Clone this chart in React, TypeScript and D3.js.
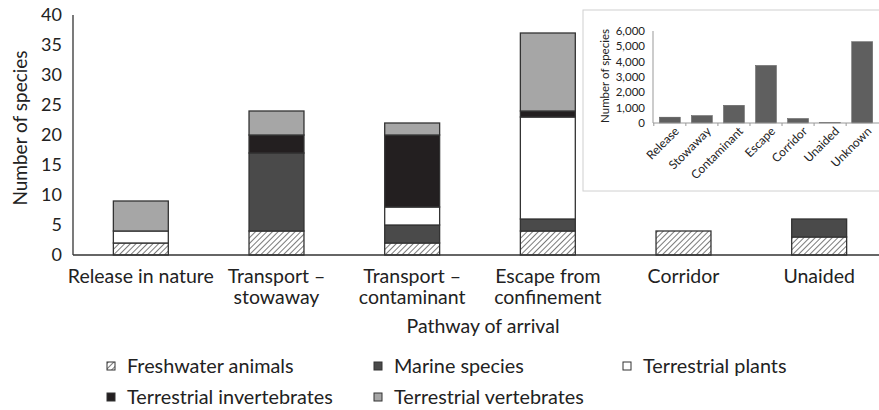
import React from 'react';
import * as d3 from 'd3';

const categories = ['Release in nature', 'Transport – stowaway', 'Transport – contaminant', 'Escape from confinement', 'Corridor', 'Unaided'];
const categoryLines = [['Release in nature'], ['Transport –', 'stowaway'], ['Transport –', 'contaminant'], ['Escape from', 'confinement'], ['Corridor'], ['Unaided']];

const seriesNames = ['Freshwater animals', 'Marine species', 'Terrestrial plants', 'Terrestrial invertebrates', 'Terrestrial vertebrates'];
const freshwater = [2, 4, 2, 4, 4, 3];
const marine = [0, 13, 3, 2, 0, 3];
const plants = [2, 0, 3, 17, 0, 0];
const invertebrates = [0, 3, 12, 1, 0, 0];
const vertebrates = [5, 4, 2, 13, 0, 0];
const yTicks = [0, 5, 10, 15, 20, 25, 30, 35, 40];

const insetCategories = ['Release', 'Stowaway', 'Contaminant', 'Escape', 'Corridor', 'Unaided', 'Unknown'];
const insetValues = [380, 480, 1150, 3750, 290, 40, 5300];
const insetTicks = [0, 1000, 2000, 3000, 4000, 5000, 6000];

const fills = ['url(#hatch)', '#4a4a4a', '#ffffff', '#231f20', '#a6a6a6'];
const font = "Lato, sans-serif";

export default function App() {
  const W = 879, H = 410;
  const rows = categories.map((c, i) => ({
    cat: c,
    s0: freshwater[i], s1: marine[i], s2: plants[i], s3: invertebrates[i], s4: vertebrates[i],
  }));
  const keys = ['s0', 's1', 's2', 's3', 's4'];
  const stack = d3.stack<any>().keys(keys)(rows);

  const x = d3.scaleBand().domain(categories).range([73, 887]).paddingInner(0.595).paddingOuter(0.2975);
  const y = d3.scaleLinear().domain([0, 40]).range([255, 15]);

  const ix = d3.scaleBand().domain(insetCategories).range([653, 879]).paddingInner(0.35).paddingOuter(0.2);
  const iy = d3.scaleLinear().domain([0, 6000]).range([123, 31]);
  const fmt = d3.format(',');

  const legendPos = [[111, 366], [378, 366], [627, 366], [111, 397], [378, 397]];

  return (
    <svg width={W} height={H} style={{ position: 'absolute', left: 0, top: 0, background: '#fff' }}>
      <defs>
        <pattern id="hatch" patternUnits="userSpaceOnUse" width="4" height="4" patternTransform="rotate(45)">
          <rect width="4" height="4" fill="#fff" />
          <line x1="0" y1="0" x2="0" y2="4" stroke="#333" strokeWidth="1.3" />
        </pattern>
      </defs>
      <rect width={W} height={H} fill="#fff" />

      {/* y axis ticks */}
      {yTicks.map(t => (
        <text key={t} x={62} y={y(t)} dy="0.35em" textAnchor="end" fontFamily={font} fontSize={18} fill="#222">{t}</text>
      ))}
      <text transform={`translate(20,128) rotate(-90)`} textAnchor="middle" dy="0.35em" fontFamily={font} fontSize={19} fill="#222">Number of species</text>

      {/* stacked bars */}
      {stack.map((layer, li) => layer.map((d, i) => {
        const h = y(d[0]) - y(d[1]);
        if (h <= 0) return null;
        return (
          <rect key={li + '-' + i} x={x(categories[i])} y={y(d[1])} width={x.bandwidth()} height={h}
            fill={fills[li]} stroke="#333" strokeWidth={1.3} />
        );
      }))}

      {/* axes lines */}
      <line x1={73} x2={73} y1={15} y2={255} stroke="#333" strokeWidth={1.3} />
      <line x1={73} x2={879} y1={255} y2={255} stroke="#333" strokeWidth={1.3} />

      {/* category labels */}
      {categoryLines.map((lines, i) => (
        <text key={i} x={(x(categories[i]) as number) + x.bandwidth() / 2} y={276} textAnchor="middle" fontFamily={font} fontSize={19.5} fill="#222">
          {lines.map((l, j) => <tspan key={j} x={(x(categories[i]) as number) + x.bandwidth() / 2} dy={j === 0 ? '0.35em' : 21}>{l}</tspan>)}
        </text>
      ))}
      <text x={483} y={326} dy="0.35em" textAnchor="middle" fontFamily={font} fontSize={19.5} fill="#222">Pathway of arrival</text>

      {/* legend */}
      {seriesNames.map((n, i) => (
        <g key={n}>
          <rect x={legendPos[i][0] - 4} y={legendPos[i][1] - 4} width={8} height={8} fill={fills[i]} stroke="#333" strokeWidth={1} />
          <text x={legendPos[i][0] + 16} y={legendPos[i][1]} dy="0.35em" fontFamily={font} fontSize={19.8} fill="#222">{n}</text>
        </g>
      ))}

      {/* inset */}
      <rect x={583} y={10} width={310} height={181} fill="#fff" stroke="#d0d0d0" strokeWidth={1} />
      {insetTicks.map(t => (
        <text key={t} x={645} y={iy(t)} dy="0.35em" textAnchor="end" fontFamily={font} fontSize={11.5} fill="#222">{fmt(t)}</text>
      ))}
      <text transform={`translate(605,76) rotate(-90)`} textAnchor="middle" dy="0.35em" fontFamily={font} fontSize={11.5} fill="#222">Number of species</text>
      {insetValues.map((v, i) => (
        <rect key={i} x={ix(insetCategories[i])} y={iy(v)} width={ix.bandwidth()} height={iy(0) - iy(v)} fill="#5f5f5f" stroke="#555" strokeWidth={0.5} />
      ))}
      <line x1={653} x2={653} y1={31} y2={123} stroke="#999" strokeWidth={1} />
      <line x1={653} x2={879} y1={123} y2={123} stroke="#999" strokeWidth={1} />
      {insetCategories.map((c, i) => (
        <line key={c} x1={(ix(c) as number) - ix.step() * ix.paddingInner() / 2} x2={(ix(c) as number) - ix.step() * ix.paddingInner() / 2} y1={123} y2={126} stroke="#999" />
      ))}
      {insetCategories.map(c => (
        <text key={c} transform={`translate(${(ix(c) as number) + ix.bandwidth() / 2 + 7},129) rotate(-45)`} textAnchor="end" dy="0.35em" fontFamily={font} fontSize={12} fill="#222">{c}</text>
      ))}
    </svg>
  );
}
